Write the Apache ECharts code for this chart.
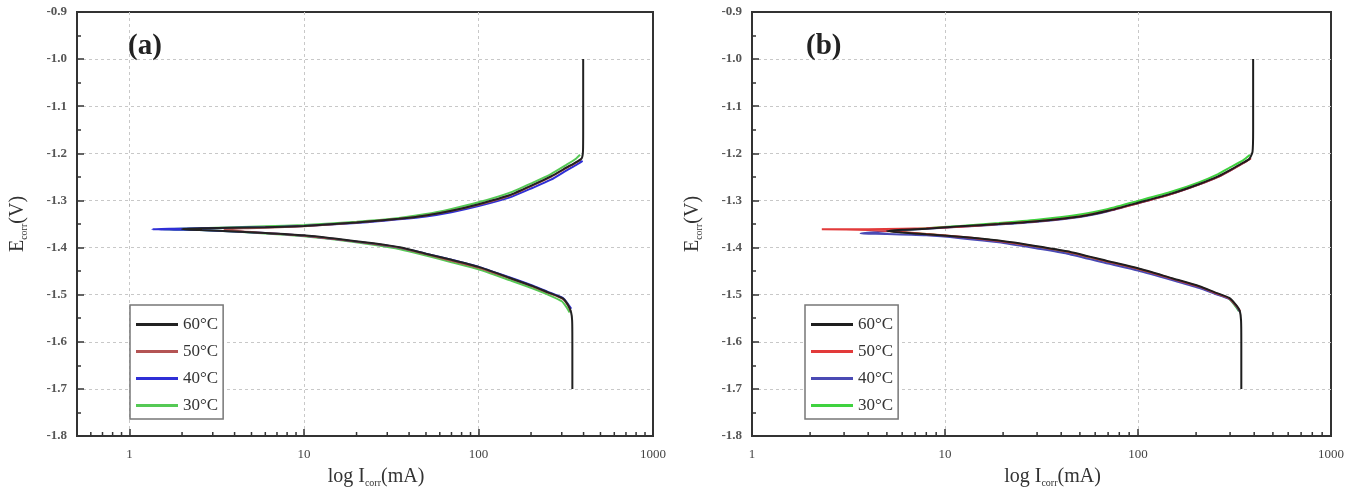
<!DOCTYPE html>
<html>
<head>
<meta charset="utf-8">
<script src="https://cdn.jsdelivr.net/npm/echarts@6/dist/echarts.min.js"></script>
<style>
html, body { margin: 0; padding: 0; background: #fff; }
#wrap { position: relative; width: 1347px; height: 493px; }
#chartA { position: absolute; left: 0; top: 0; width: 675px; height: 493px; }
#chartB { position: absolute; left: 675px; top: 0; width: 672px; height: 493px; }
</style>
</head>
<body>
<div id="wrap">
  <div id="chartA"></div>
  <div id="chartB"></div>
</div>
<script>
// legend names
const names = ['60°C', '50°C', '40°C', '30°C'];

// panel (a): [I (mA), E (V)]
const a60 = [[345,-1.70],[345,-1.60],[344,-1.555],[339,-1.537],[326,-1.522],[304,-1.508],[250,-1.495],[205,-1.482],[150,-1.464],[100,-1.441],[70,-1.426],[50,-1.413],[36,-1.400],[25,-1.391],[15,-1.381],[10,-1.374],[6,-1.369],[4,-1.366],[2.6,-1.363],[2,-1.361],[2.6,-1.359],[4,-1.358],[6,-1.357],[10,-1.354],[20,-1.347],[35,-1.339],[50,-1.332],[70,-1.322],[100,-1.308],[150,-1.289],[205,-1.267],[260,-1.249],[320,-1.230],[365,-1.218],[390,-1.211],[397,-1.195],[398,-1.15],[398,-1.0]];
const a50 = [[337,-1.535],[326,-1.523],[304,-1.509],[250,-1.496],[205,-1.483],[150,-1.465],[100,-1.443],[70,-1.428],[50,-1.414],[36,-1.401],[25,-1.392],[15,-1.382],[10,-1.375],[6,-1.369],[4.5,-1.366],[3.5,-1.362],[4.5,-1.359],[6,-1.358],[10,-1.355],[20,-1.347],[35,-1.339],[50,-1.332],[70,-1.322],[100,-1.309],[150,-1.290],[205,-1.268],[260,-1.250],[320,-1.231],[365,-1.219],[388,-1.212]];
const a40 = [[340,-1.530],[326,-1.520],[304,-1.507],[250,-1.494],[205,-1.481],[150,-1.463],[100,-1.441],[70,-1.426],[50,-1.413],[36,-1.401],[25,-1.392],[15,-1.382],[10,-1.375],[6,-1.369],[4,-1.366],[2.5,-1.363],[1.8,-1.362],[1.35,-1.361],[1.8,-1.360],[2.5,-1.359],[4,-1.358],[6,-1.357],[10,-1.354],[20,-1.348],[35,-1.340],[50,-1.334],[70,-1.325],[100,-1.312],[150,-1.294],[205,-1.273],[260,-1.256],[320,-1.236],[365,-1.224],[395,-1.216]];
const a30 = [[333,-1.538],[320,-1.527],[300,-1.514],[250,-1.500],[205,-1.487],[150,-1.469],[100,-1.446],[70,-1.431],[50,-1.417],[36,-1.404],[25,-1.394],[15,-1.383],[10,-1.376],[6,-1.370],[4,-1.366],[2.5,-1.363],[1.5,-1.361],[2.5,-1.359],[4,-1.357],[6,-1.355],[10,-1.352],[20,-1.345],[35,-1.337],[50,-1.329],[70,-1.318],[100,-1.304],[150,-1.284],[205,-1.262],[260,-1.244],[320,-1.224],[360,-1.212],[382,-1.203]];

// panel (b)
const b60 = [[343,-1.70],[343,-1.60],[342,-1.555],[337,-1.535],[325,-1.524],[297,-1.507],[250,-1.495],[208,-1.482],[150,-1.465],[100,-1.444],[70,-1.429],[43,-1.408],[30,-1.397],[19,-1.385],[12,-1.377],[8,-1.372],[6,-1.368],[5,-1.365],[6,-1.362],[8,-1.360],[12,-1.355],[19,-1.350],[30,-1.344],[50,-1.334],[70,-1.322],[100,-1.305],[150,-1.285],[208,-1.265],[260,-1.249],[308,-1.233],[350,-1.220],[377,-1.212],[392,-1.197],[395,-1.15],[395,-1.0]];
const b50 = [[338,-1.535],[325,-1.525],[297,-1.508],[250,-1.496],[208,-1.483],[150,-1.466],[100,-1.445],[70,-1.430],[43,-1.409],[30,-1.398],[19,-1.386],[12,-1.377],[8,-1.371],[6,-1.367],[4,-1.363],[2.3,-1.361],[4,-1.361],[6,-1.360],[8,-1.359],[12,-1.356],[19,-1.350],[30,-1.344],[50,-1.334],[70,-1.322],[100,-1.306],[150,-1.286],[208,-1.266],[260,-1.250],[308,-1.234],[350,-1.221],[385,-1.210]];
const b40 = [[335,-1.535],[322,-1.524],[297,-1.509],[250,-1.498],[208,-1.486],[150,-1.469],[100,-1.449],[70,-1.434],[43,-1.413],[30,-1.402],[19,-1.389],[12,-1.380],[8,-1.374],[5,-1.371],[3.65,-1.370],[4.5,-1.367],[6,-1.363],[8,-1.360],[12,-1.356],[19,-1.351],[30,-1.345],[50,-1.335],[70,-1.323],[100,-1.306],[150,-1.286],[208,-1.266],[260,-1.250],[308,-1.234],[350,-1.221],[383,-1.211]];
const b30 = [[333,-1.535],[320,-1.525],[297,-1.509],[250,-1.497],[208,-1.484],[150,-1.467],[100,-1.446],[70,-1.431],[43,-1.410],[30,-1.399],[19,-1.386],[12,-1.378],[8,-1.371],[5,-1.365],[6.5,-1.362],[8,-1.359],[12,-1.354],[19,-1.348],[30,-1.341],[50,-1.330],[70,-1.318],[100,-1.301],[150,-1.281],[208,-1.261],[260,-1.244],[300,-1.230],[350,-1.215],[380,-1.203]];

// minor ticks on the log axes
const minorA = [0.6,0.7,0.8,0.9,2,3,4,5,6,7,8,9,20,30,40,50,60,70,80,90,200,300,400,500,600,700,800,900];
const minorB = [2,3,4,5,6,7,8,9,20,30,40,50,60,70,80,90,200,300,400,500,600,700,800,900];

const colorsA = ['#222222', '#b45454', '#2f2fd6', '#55c955'];
const colorsB = ['#1e1e1e', '#e23a3a', '#4a4ab4', '#3fd23f'];

const FONT = 'Liberation Serif';
const Y_MIN = -1.8;
const LINE_ICON = 'path://M0,0 L40,0 L40,3 L0,3 Z';

function makePanel(el, tag, xMin, gridLeft, gridWidth, dataSets, colors, minor) {
  const chart = echarts.init(document.getElementById(el));
  const series = [];
  // draw order: 30 first, 60 last (on top)
  for (let i = dataSets.length - 1; i >= 0; i--) {
    series.push({
      name: names[i],
      type: 'line',
      data: dataSets[i],
      symbol: 'none',
      smooth: 0.2,
      color: colors[i],
      lineStyle: { width: 2, color: colors[i] },
      z: 3
    });
  }
  series.push({
    type: 'custom',
    silent: true,
    clip: false,
    z: 10,
    data: minor.map(v => [v, Y_MIN]),
    renderItem: function (params, api) {
      const p = api.coord([api.value(0), Y_MIN]);
      return {
        type: 'line',
        shape: { x1: p[0], y1: p[1], x2: p[0], y2: p[1] - 4 },
        style: { stroke: '#333', lineWidth: 1.5 }
      };
    }
  });

  const gridLine = { show: true, showMinLine: false, showMaxLine: false, lineStyle: { color: '#c8c8c8', width: 1, type: [3, 3] } };

  chart.setOption({
    animation: false,
    backgroundColor: '#fff',
    title: {
      text: tag,
      left: gridLeft + 50,
      top: 27,
      textStyle: { fontFamily: FONT, fontSize: 29, fontWeight: 'bold', color: '#222' }
    },
    legend: {
      data: names.map(n => ({ name: n, icon: LINE_ICON })),
      orient: 'vertical',
      left: 130,
      top: 305,
      borderColor: '#777',
      borderWidth: 1.5,
      borderRadius: 0,
      padding: [11, 5, 5, 6],
      itemWidth: 42,
      itemHeight: 14,
      itemGap: 10,
      symbolKeepAspect: true,
      backgroundColor: '#fff',
      textStyle: { fontFamily: FONT, fontSize: 17, color: '#333' }
    },
    grid: {
      left: gridLeft,
      top: 12,
      width: gridWidth,
      height: 427,
      show: true,
      borderColor: '#333',
      borderWidth: 2,
      backgroundColor: 'transparent'
    },
    xAxis: {
      type: 'log',
      logBase: 10,
      min: xMin,
      max: 1000,
      name: '{t|log I}{s|corr}{t|(mA)}',
      nameLocation: 'middle',
      nameGap: 30,
      nameTextStyle: {
        padding: [0, 0, 0, 22],
        rich: {
          t: { fontFamily: FONT, fontSize: 20, color: '#333', lineHeight: 22 },
          s: { fontFamily: FONT, fontSize: 10, color: '#333', lineHeight: 22, verticalAlign: 'bottom', padding: [10, 0, 0, 0] }
        }
      },
      axisLine: { show: true, lineStyle: { color: '#333', width: 2 } },
      axisTick: { show: true, inside: true, length: 7, lineStyle: { color: '#333', width: 1.5 } },
      axisLabel: {
        fontFamily: FONT,
        fontSize: 13,
        color: '#444',
        margin: 12,
        showMinLabel: xMin >= 1,
        formatter: function (v) {
          const l = Math.log10(v);
          return Math.abs(l - Math.round(l)) < 1e-6 ? String(Math.round(v)) : '';
        }
      },
      splitLine: gridLine
    },
    yAxis: {
      type: 'value',
      min: -1.8,
      max: -0.9,
      interval: 0.1,
      name: '{t|E}{s|corr}{t|(V)}',
      nameLocation: 'middle',
      nameGap: 48,
      nameRotate: 90,
      nameTextStyle: {
        rich: {
          t: { fontFamily: FONT, fontSize: 20, color: '#333', lineHeight: 22 },
          s: { fontFamily: FONT, fontSize: 10, color: '#333', lineHeight: 22, verticalAlign: 'bottom', padding: [10, 0, 0, 0] }
        }
      },
      axisLine: { show: true, lineStyle: { color: '#333', width: 2 } },
      axisTick: { show: true, inside: true, length: 7, lineStyle: { color: '#333', width: 1.5 } },
      minorTick: { show: true, splitNumber: 2, length: 4, lineStyle: { color: '#333', width: 1.5 } },
      axisLabel: {
        fontFamily: FONT,
        fontSize: 13,
        fontWeight: 'bold',
        color: '#555',
        margin: 10,
        formatter: v => v.toFixed(1)
      },
      splitLine: gridLine
    },
    series: series
  });
  return chart;
}

makePanel('chartA', '(a)', 0.5, 73, 580, [a60, a50, a40, a30], colorsA, minorA);
makePanel('chartB', '(b)', 1, 76, 581, [b60, b50, b40, b30], colorsB, minorB);
</script>
</body>
</html>
